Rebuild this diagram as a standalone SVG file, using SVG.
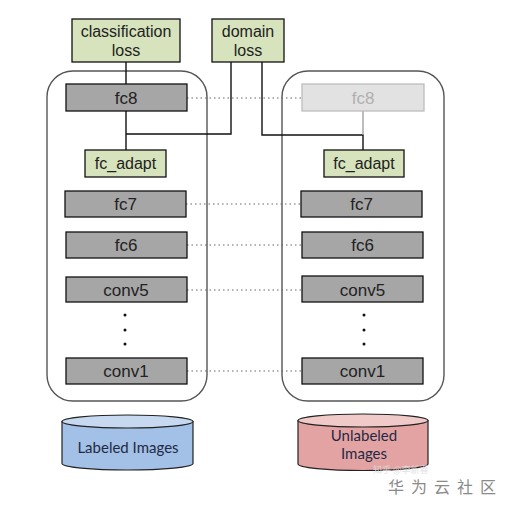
<svg xmlns="http://www.w3.org/2000/svg" width="509" height="506" viewBox="0 0 509 506">
<style>
.green{fill:#d6e3bc;stroke:#111;stroke-width:1.3}
.gray{fill:#a6a6a6;stroke:#111;stroke-width:1.3}
.ghost{fill:#e2e2e2;stroke:#bdbdbd;stroke-width:1.3}
.cont{fill:none;stroke:#555;stroke-width:1.4}
.t{font-family:"Liberation Sans",Arial,sans-serif;font-size:16px;fill:#222;text-anchor:middle}
.b{font-size:17px}
.tg{font-family:"Liberation Sans",Arial,sans-serif;font-size:17px;fill:#b0b0b0;text-anchor:middle}
.ct{font-family:Lato,"Open Sans",sans-serif;font-size:15px;fill:#1f2a44;text-anchor:middle}
.link{fill:none;stroke:#111;stroke-width:1.4}
.dot{fill:none;stroke:#666;stroke-width:1.2;stroke-dasharray:1.5 3}
</style>
<rect width="509" height="506" fill="#fff"/>
<g id="containers">
<rect class="cont" x="47" y="71" width="160" height="330" rx="26"/>
<rect class="cont" x="282" y="71" width="162" height="330" rx="26"/>
</g>
<g id="connectors">
<path class="link" d="M126 62V84"/>
<path class="link" d="M126 111V150"/>
<path class="link" d="M126 134H231V62"/>
<path class="link" d="M262 62V135H363V150"/>
<path d="M363 111V135" fill="none" stroke="#999" stroke-width="1.3"/>
<path class="dot" d="M187 98H302"/>
<path class="dot" d="M186 204H301"/>
<path class="dot" d="M187 245H302"/>
<path class="dot" d="M187 290H302"/>
<path class="dot" d="M187 371H302"/>
</g>
<g id="classification_loss"><rect class="green" x="72" y="19" width="108" height="43"/><text class="t" x="126" y="37">classification</text><text class="t" x="126" y="56">loss</text></g>
<g id="domain_loss"><rect class="green" x="212" y="19" width="72" height="43"/><text class="t" x="248" y="37">domain</text><text class="t" x="248" y="56">loss</text></g>
<g id="fc8_l"><rect class="gray" x="66" y="84" width="121" height="27"/><text class="t b" x="126" y="103.5">fc8</text></g>
<g id="fc8_r"><rect class="ghost" x="302" y="84" width="122" height="27"/><text class="tg" x="363" y="103.5">fc8</text></g>
<g id="fc_adapt_l"><rect class="green" x="85" y="150" width="81" height="27"/><text class="t" x="125.5" y="169">fc_adapt</text></g>
<g id="fc_adapt_r"><rect class="green" x="324" y="150" width="80" height="27"/><text class="t" x="364" y="169">fc_adapt</text></g>
<g id="fc7_l"><rect class="gray" x="65" y="191" width="121" height="26"/><text class="t b" x="125.5" y="210">fc7</text></g>
<g id="fc7_r"><rect class="gray" x="301" y="191" width="121" height="26"/><text class="t b" x="361.5" y="210">fc7</text></g>
<g id="fc6_l"><rect class="gray" x="66" y="232" width="121" height="26"/><text class="t b" x="126" y="251">fc6</text></g>
<g id="fc6_r"><rect class="gray" x="302" y="232" width="121" height="26"/><text class="t b" x="362.5" y="251">fc6</text></g>
<g id="conv5_l"><rect class="gray" x="66" y="277" width="121" height="25"/><text class="t b" x="126" y="295.5">conv5</text></g>
<g id="conv5_r"><rect class="gray" x="302" y="276" width="121" height="26"/><text class="t b" x="362.5" y="295.5">conv5</text></g>
<g id="dots_l" fill="#111"><circle cx="125" cy="315" r="1.5"/><circle cx="125" cy="330" r="1.5"/><circle cx="125" cy="344" r="1.5"/></g>
<g id="dots_r" fill="#111"><circle cx="364" cy="315" r="1.5"/><circle cx="364" cy="330" r="1.5"/><circle cx="364" cy="344" r="1.5"/></g>
<g id="conv1_l"><rect class="gray" x="66" y="358" width="121" height="26"/><text class="t b" x="126" y="377">conv1</text></g>
<g id="conv1_r"><rect class="gray" x="302" y="358" width="121" height="26"/><text class="t b" x="362.5" y="377">conv1</text></g>
<g id="labeled_images">
<path d="M62 421.5V463.5A65.5 6.5 0 0 0 193 463.5V421.5Z" fill="#a3c0e6" stroke="#222" stroke-width="1.2"/>
<ellipse cx="127.5" cy="421.5" rx="65.5" ry="6.5" fill="#c6d9f1" stroke="#222" stroke-width="1.2"/>
<text class="ct" x="128" y="453">Labeled Images</text>
</g>
<g id="unlabeled_images">
<path d="M298 420.5V464A65 6.5 0 0 0 428 464V420.5Z" fill="#e4a3a3" stroke="#222" stroke-width="1.2"/>
<ellipse cx="363" cy="420.5" rx="65" ry="6.5" fill="#f0c9c9" stroke="#222" stroke-width="1.2"/>
<text class="ct" x="364" y="441">Unlabeled</text>
<text class="ct" x="364" y="459">Images</text>
</g>
<g id="watermark">
<text x="373" y="473" font-family="'Noto Sans CJK SC',sans-serif" font-size="9" fill="#ddd" opacity="0.85">知乎 @李新春</text>
<text x="388" y="493" font-family="'Noto Sans CJK SC',sans-serif" font-size="16" fill="#8a8a8a" letter-spacing="7">华为云社区</text>
</g>
</svg>
